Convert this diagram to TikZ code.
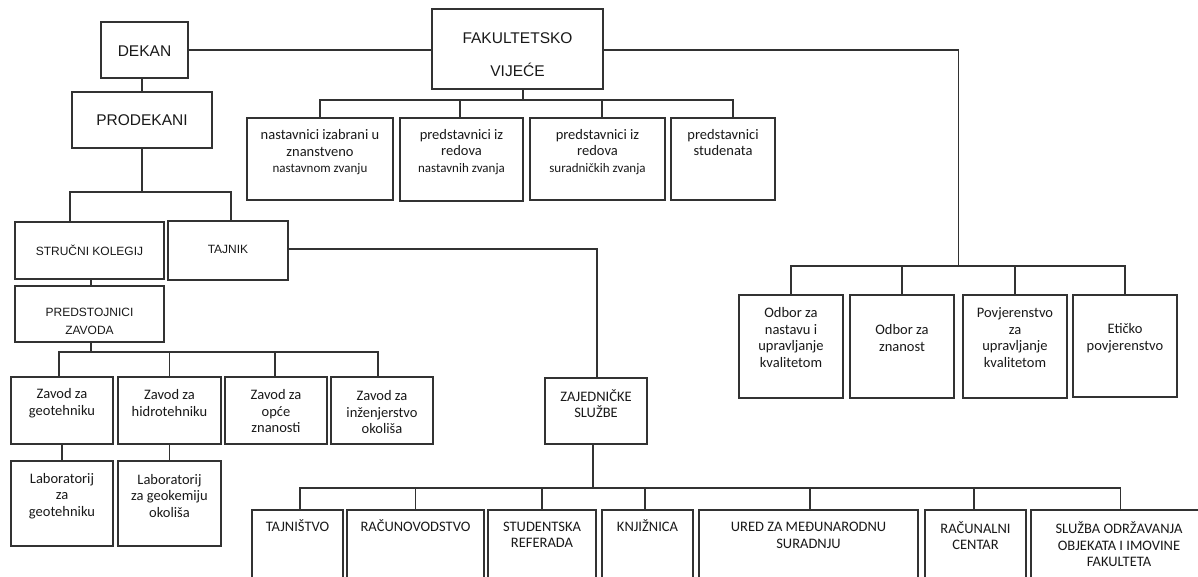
\documentclass[tikz,border=0pt]{standalone}
\usepackage{fontspec}
\setmainfont{Carlito}
\newfontfamily\arialf{Liberation Sans}
\usetikzlibrary{fit,calc}
\definecolor{linec}{RGB}{50,50,50}
\definecolor{textc}{RGB}{25,25,25}
\tikzset{
  box/.style={draw=linec, line width=1.5pt, inner sep=0pt, rectangle},
  ln/.style={draw=linec, line width=1.5pt},
  tx/.style={align=center, text=textc, inner sep=0pt, font=\fontsize{14.5}{16.5}\selectfont},
  capA/.style={tx, font=\arialf\fontsize{15.5}{33}\selectfont},
  capB/.style={tx, font=\arialf\fontsize{12}{18}\selectfont},
}
\newcommand\orgbox[5]{\node[box, fit={(#2,#3) (#4,#5)}] (#1) {};}
\newcommand\sm[1]{{\fontsize{13}{16.5}\selectfont #1}}
\begin{document}
\begin{tikzpicture}[x=1pt,y=-1pt]
\useasboundingbox (0,0) rectangle (1198,577);
\fill[white] (0,0) rectangle (1198,577);
\clip (0,0) rectangle (1198,577);

% ---- boxes ----
\orgbox{dekan}{101}{22}{188}{78}
\orgbox{prodekani}{72}{92}{212}{148}
\orgbox{fv}{432}{9}{603}{89}
\orgbox{t1}{247}{118}{393}{200}
\orgbox{t2}{400}{118}{523}{201}
\orgbox{t3}{530}{118}{665}{200}
\orgbox{t4}{671}{118}{775}{200}
\orgbox{strucni}{15}{222}{164}{279}
\orgbox{tajnik}{168}{221}{288}{280}
\orgbox{predst}{15}{286}{164}{342}
\orgbox{z1}{11}{377}{113}{444}
\orgbox{z2}{118}{377}{221}{444}
\orgbox{z3}{225}{377}{327}{444}
\orgbox{z4}{331}{377}{433}{444}
\orgbox{l1}{11}{461}{113}{546}
\orgbox{l2}{118}{461}{221}{546}
\orgbox{zaj}{545}{378}{647}{444}
\orgbox{b1}{252}{510}{343}{600}
\orgbox{b2}{347}{510}{484}{600}
\orgbox{b3}{488}{510}{596}{600}
\orgbox{b4}{602}{510}{693}{600}
\orgbox{b5}{699}{510}{918}{600}
\orgbox{b6}{925}{510}{1026}{600}
\orgbox{b7}{1031}{510}{1210}{600}
\orgbox{o1}{739}{295}{843}{398}
\orgbox{o2}{850}{295}{954}{398}
\orgbox{o3}{963}{295}{1067}{398}
\orgbox{o4}{1073}{295}{1177}{397}

% ---- texts ----
\node[capA] (dekan-t) at (144.5,51) {DEKAN};
\node[capA] (prodekani-t) at (142,120) {PRODEKANI};
\node[capA] (fv-t) at (517.5,54.5) {FAKULTETSKO\\VIJEĆE};
\node[tx] (t1-t) at (320,152.5) {nastavnici izabrani u\\znanstveno\\\sm{nastavnom zvanju}};
\node[tx] (t2-t) at (461.5,152) {predstavnici iz\\redova\\\sm{nastavnih zvanja}};
\node[tx] (t3-t) at (597.5,152) {predstavnici iz\\redova\\\sm{suradničkih zvanja}};
\node[tx] (t4-t) at (723,142.5) {predstavnici\\studenata};
\node[capB] (strucni-t) at (89.5,250) {STRUČNI KOLEGIJ};
\node[capB] (tajnik-t) at (228,249) {TAJNIK};
\node[capB] (predst-t) at (89.5,321) {PREDSTOJNICI\\ZAVODA};
\node[tx] (z1-t) at (62,403) {Zavod za\\geotehniku};
\node[tx] (z2-t) at (169.5,403) {Zavod za\\hidrotehniku};
\node[tx] (z3-t) at (276,411.5) {Zavod za\\opće\\znanosti};
\node[tx] (z4-t) at (382,412.5) {Zavod za\\inženjerstvo\\okoliša};
\node[tx] (l1-t) at (62,496) {Laboratorij\\za\\geotehniku};
\node[tx] (l2-t) at (169.5,496) {Laboratorij\\za geokemiju\\okoliša};
\node[tx] (zaj-t) at (596,403.5) {ZAJEDNIČKE\\SLUŽBE};
\node[tx] (b1-t) at (297.5,526) {TAJNIŠTVO};
\node[tx] (b2-t) at (415.5,526) {RAČUNOVODSTVO};
\node[tx] (b3-t) at (542,535) {STUDENTSKA\\REFERADA};
\node[tx] (b4-t) at (647.5,526) {KNJIŽNICA};
\node[tx] (b5-t) at (808.5,535.5) {URED ZA MEĐUNARODNU\\SURADNJU};
\node[tx] (b6-t) at (975.5,535.5) {RAČUNALNI\\CENTAR};
\node[tx] (b7-t) at (1119,544.5) {SLUŽBA ODRŽAVANJA\\OBJEKATA I IMOVINE\\FAKULTETA};
\node[tx] (o1-t) at (791,337.5) {Odbor za\\nastavu i\\upravljanje\\kvalitetom};
\node[tx] (o2-t) at (902,338) {Odbor za\\znanost};
\node[tx] (o3-t) at (1015,337.5) {Povjerenstvo\\za\\upravljanje\\kvalitetom};
\node[tx] (o4-t) at (1125,338) {Etičko\\povjerenstvo};

% ---- bus coordinates ----
\coordinate (busT) at (0,100);
\coordinate (busL) at (0,192);
\coordinate (busZ) at (0,352);
\coordinate (busB) at (0,488);
\coordinate (busR) at (0,266);
\path ($(o2.north)!0.5!(o3.north)$) coordinate (midOn);
\coordinate (midO) at (midOn |- busR);

% ---- connectors ----
\draw[ln] (dekan.east) -- (dekan.east -| fv.west);
\draw[ln] (prodekani.north) -- (prodekani.north |- dekan.south);
\draw[ln] ([xshift=5.5pt]fv.south) -- ([xshift=5.5pt]fv.south |- busT);
\draw[ln] (t1.north) |- ([xshift=10pt]t4.north |- busT) -- ([xshift=10pt]t4.north);
\draw[ln] ([xshift=-1.5pt]t2.north) -- ([xshift=-1.5pt]t2.north |- busT);
\draw[ln] ([xshift=4.5pt]t3.north) -- ([xshift=4.5pt]t3.north |- busT);

\draw[ln] (prodekani.south) -- (prodekani.south |- busL);
\draw[ln] ([xshift=-19.5pt]strucni.north) |- ([xshift=3pt]tajnik.north |- busL) -- ([xshift=3pt]tajnik.north);
\draw[ln] ([xshift=1.5pt]strucni.south) -- ([xshift=1.5pt]predst.north);

\draw[ln] ([xshift=1.5pt]predst.south) -- ([xshift=1.5pt]predst.south |- busZ);
\draw[ln] ([xshift=-3pt]z1.north) |- ([xshift=-4pt]z4.north |- busZ) -- ([xshift=-4pt]z4.north);
\draw[ln] (z2.north) -- (z2.north |- busZ);
\draw[ln] ([xshift=-1pt]z3.north) -- ([xshift=-1pt]z3.north |- busZ);
\draw[ln] (z1.south) -- (l1.north);
\draw[ln] (z2.south) -- (l2.north);

\draw[ln] ([yshift=1.5pt]tajnik.east) -| ([xshift=1pt]zaj.north);
\draw[ln] ([xshift=-3pt]zaj.south) -- ([xshift=-3pt]zaj.south |- busB);
\draw[ln] ([xshift=2.5pt]b1.north) |- (b7.north |- busB) -- (b7.north);
\draw[ln] (b2.north) -- (b2.north |- busB);
\draw[ln] (b3.north) -- (b3.north |- busB);
\draw[ln] ([xshift=-2.5pt]b4.north) -- ([xshift=-2.5pt]b4.north |- busB);
\draw[ln] ([xshift=1.5pt]b5.north) -- ([xshift=1.5pt]b5.north |- busB);
\draw[ln] ([xshift=-1.5pt]b6.north) -- ([xshift=-1.5pt]b6.north |- busB);

\draw[ln] ([yshift=-1pt]fv.east) -| (midO);
\draw[ln] (o1.north) |- (o4.north |- busR) -- (o4.north);
\draw[ln] (o2.north) -- (o2.north |- busR);
\draw[ln] (o3.north) -- (o3.north |- busR);
\end{tikzpicture}
\end{document}
